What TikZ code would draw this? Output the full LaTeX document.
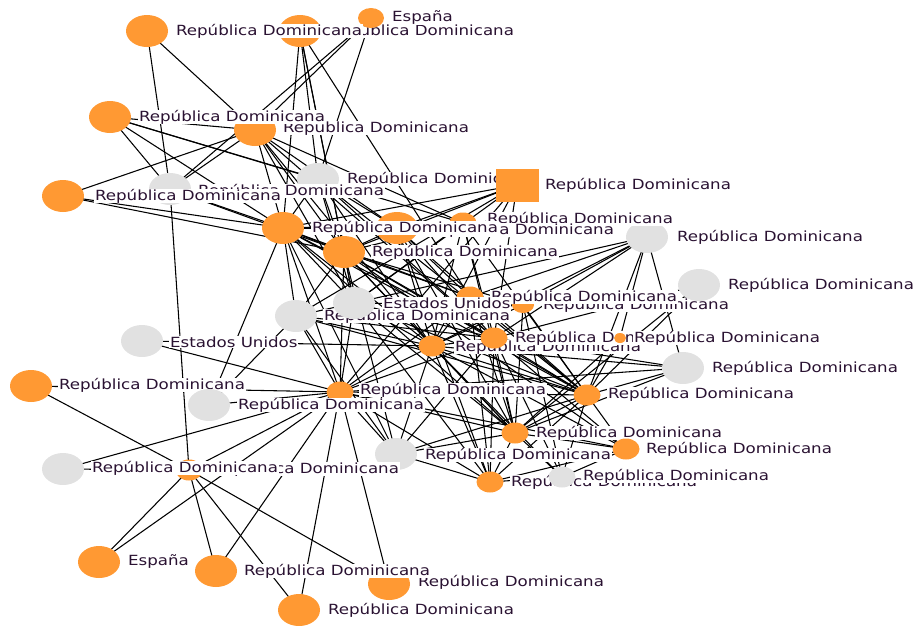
\documentclass[tikz,border=0pt]{standalone}
\usepackage{fontspec}
\usetikzlibrary{shapes.geometric,backgrounds}
\newfontfamily\labfont[FakeStretch=1.19]{DejaVu Sans}
\definecolor{nodeorange}{HTML}{FF9933}
\definecolor{nodegray}{HTML}{E1E1E1}
\definecolor{labink}{HTML}{2A1232}
\begin{document}
\begin{tikzpicture}[x=0.75pt,y=-0.75pt,
  nbig/.style={ellipse,inner sep=0pt,minimum width=31.5pt,minimum height=24pt},
  nmed/.style={ellipse,inner sep=0pt,minimum width=20.25pt,minimum height=15.75pt},
  nsmall/.style={ellipse,inner sep=0pt,minimum width=19.5pt,minimum height=15pt},
  nmini/.style={ellipse,inner sep=0pt,minimum width=16.5pt,minimum height=12pt},
  ntiny/.style={ellipse,inner sep=0pt,minimum width=9pt,minimum height=7.5pt},
  nsquare/.style={rectangle,inner sep=0pt,minimum width=32.25pt,minimum height=24.75pt},
  og/.style={fill=nodeorange,draw=none},
  gy/.style={fill=nodegray,draw=none},
  lab/.style={anchor=west,fill=white,inner xsep=0.6pt,inner ysep=0.3pt,
    text=labink,font=\labfont\fontsize{10.5pt}{12pt}\selectfont},
  edge/.style={draw=black,line width=0.8pt}]
\useasboundingbox (0,0) rectangle (924,625);

% nodes with their labels, in stacking order
\node[nbig,og] (v2) at (300,31) {};  \node[lab] (v2l) at (327,31) {República Dominicana};
\node[nsmall,og] (v3) at (371,18) {}; \node[lab] (v3l) at (391,18) {España};
\node[nbig,og] (v1) at (147,31) {};  \node[lab] (v1l) at (175,31) {República Dominicana};
\node[nbig,og] (v5) at (255,130) {}; \node[lab] (v5l) at (282,128) {República Dominicana};
\node[nbig,og] (v4) at (110,117) {}; \node[lab] (v4l) at (138,117) {República Dominicana};
\node[nbig,gy] (v8) at (318,179) {}; \node[lab] (v8l) at (346,179) {República Dominicana};
\node[nsquare,og] (v9) at (517,185) {}; \node[lab] (v9l) at (544,185) {República Dominicana};
\node[nbig,gy] (v7) at (170,189) {}; \node[lab] (v7l) at (197,191) {República Dominicana};
\node[nbig,og] (v6) at (63,196) {};  \node[lab] (v6l) at (94,196) {República Dominicana};
\node[nbig,gy] (v14) at (647,237) {}; \node[lab] (v14l) at (676,237) {República Dominicana};
\node[nmed,og] (v12) at (463,223) {}; \node[lab] (v12l) at (486,219) {República Dominicana};
\node[nbig,og] (v11) at (397,228) {}; \node[lab] (v11l) at (427,230) {República Dominicana};
\node[nbig,og] (v10) at (283,228) {}; \node[lab] (v10l) at (311,228) {República Dominicana};
\node[nbig,og] (v13) at (344,252) {}; \node[lab] (v13l) at (371,252) {República Dominicana};
\node[nbig,gy] (v17) at (296,316) {}; \node[lab] (v17l) at (323,316) {República Dominicana};
\node[nmini,og] (v19) at (523,305) {}; \node[lab] (v19l) at (542,305) {República Dominicana};
\node[nmed,og] (v18) at (470,297) {}; \node[lab] (v18l) at (490,297) {República Dominicana};
\node[nbig,gy] (v16) at (354,303) {}; \node[lab] (v16l) at (382,303) {Estados Unidos};
\node[nbig,gy] (v15) at (699,285) {}; \node[lab] (v15l) at (727,285) {República Dominicana};
\node[nmed,og] (v20) at (432,346) {}; \node[lab] (v20l) at (454,347) {República Dominicana};
\node[nmed,og] (v21) at (494,338) {}; \node[lab] (v21l) at (514,338) {República Dominicana};
\node[ntiny,og] (v22) at (620,338) {}; \node[lab] (v22l) at (633,338) {República Dominicana};
\node[nbig,gy] (v23) at (683,368) {}; \node[lab] (v23l) at (711,368) {República Dominicana};
\node[nmed,og] (v24) at (587,395) {}; \node[lab] (v24l) at (607,394) {República Dominicana};
\node[nbig,gy] (v25) at (142,341) {}; \node[lab] (v25l) at (169,342) {Estados Unidos};
\node[nbig,og] (v26) at (31,386) {};  \node[lab] (v26l) at (58,385) {República Dominicana};
\node[nmed,og] (v27) at (340,392) {}; \node[lab] (v27l) at (359,390) {República Dominicana};
\node[nbig,gy] (v28) at (209,405) {}; \node[lab] (v28l) at (237,405) {República Dominicana};
\node[nmed,og] (v29) at (515,433) {}; \node[lab] (v29l) at (535,433) {República Dominicana};
\node[nmed,og] (v30) at (626,449) {}; \node[lab] (v30l) at (645,449) {República Dominicana};
\node[nbig,gy] (v31) at (396,454) {}; \node[lab] (v31l) at (424,455) {República Dominicana};
\node[nmed,og] (v32) at (490,482) {}; \node[lab] (v32l) at (510,482) {República Dominicana};
\node[nmed,gy] (v33) at (562,477) {}; \node[lab] (v33l) at (582,476) {República Dominicana};
\node[nmed,og] (v35) at (189,470) {}; \node[lab] (v35l) at (212,469) {República Dominicana};
\node[nbig,gy] (v34) at (63,469) {};  \node[lab] (v34l) at (91,468) {República Dominicana};
\node[nbig,og] (v36) at (99,562) {};  \node[lab] (v36l) at (127,562) {España};
\node[nbig,og] (v39) at (389,584) {}; \node[lab] (v39l) at (417,582) {República Dominicana};
\node[nbig,og] (v37) at (216,571) {}; \node[lab] (v37l) at (243,571) {República Dominicana};
\node[nbig,og] (v38) at (299,610) {}; \node[lab] (v38l) at (327,610) {República Dominicana};

% connectors, behind everything
\begin{pgfonlayer}{background}
\foreach \a/\b in {
 v1/v7, v1/v5,
 v2/v10, v2/v8, v2/v13, v2/v18, v2/v16,
 v3/v5, v3/v7, v3/v8,
 v4/v5, v4/v7, v4/v10, v4/v8, v4/v12,
 v5/v6, v5/v7, v5/v10, v5/v13, v5/v12, v5/v11, v5/v20, v5/v16, v5/v21,
 v6/v10, v6/v13,
 v7/v35, v7/v10, v7/v13,
 v8/v10, v8/v13, v8/v11, v8/v20, v8/v21, v8/v24, v8/v16,
 v9/v10, v9/v13, v9/v11, v9/v16, v9/v20, v9/v21, v9/v17, v9/v27,
 v10/v11, v10/v12, v10/v13, v10/v16, v10/v17, v10/v18, v10/v20, v10/v21,
 v10/v24, v10/v27, v10/v28, v10/v29, v10/v31,
 v11/v13, v11/v20, v11/v21, v11/v24, v11/v29, v11/v32, v11/v18,
 v12/v13, v12/v20, v12/v21, v12/v24, v12/v29, v12/v16,
 v13/v16, v13/v17, v13/v18, v13/v19, v13/v20, v13/v21, v13/v24, v13/v27,
 v13/v29, v13/v31, v13/v30,
 v14/v24, v14/v22, v14/v23, v14/v19, v14/v18, v14/v20, v14/v16, v14/v21,
 v15/v21, v15/v29, v15/v24,
 v16/v17, v16/v20, v16/v21, v16/v24, v16/v27, v16/v29, v16/v32, v16/v19,
 v17/v20, v17/v27, v17/v21, v17/v24, v17/v31, v17/v28,
 v18/v20, v18/v24, v18/v29, v18/v32, v18/v27,
 v19/v24, v19/v29, v19/v33, v19/v20,
 v20/v21, v20/v24, v20/v25, v20/v27, v20/v29, v20/v31, v20/v32, v20/v33,
 v20/v23, v20/v30,
 v21/v24, v21/v27, v21/v29, v21/v32, v21/v33, v21/v30, v21/v23, v21/v31,
 v22/v24, v22/v29,
 v23/v24, v23/v27, v23/v29,
 v24/v27, v24/v29, v24/v30, v24/v31, v24/v32, v24/v33,
 v25/v27, v26/v35, v26/v27,
 v27/v28, v27/v29, v27/v31, v27/v32, v27/v34, v27/v35, v27/v36, v27/v37,
 v27/v38, v27/v39, v27/v30,
 v29/v30, v29/v31, v29/v32, v29/v33,
 v30/v32, v30/v33, v31/v32, v32/v33,
 v34/v35, v35/v36, v35/v37, v35/v38, v35/v39}
 {\draw[edge] (\a.center) -- (\b.center);}
\end{pgfonlayer}
\end{tikzpicture}
\end{document}
